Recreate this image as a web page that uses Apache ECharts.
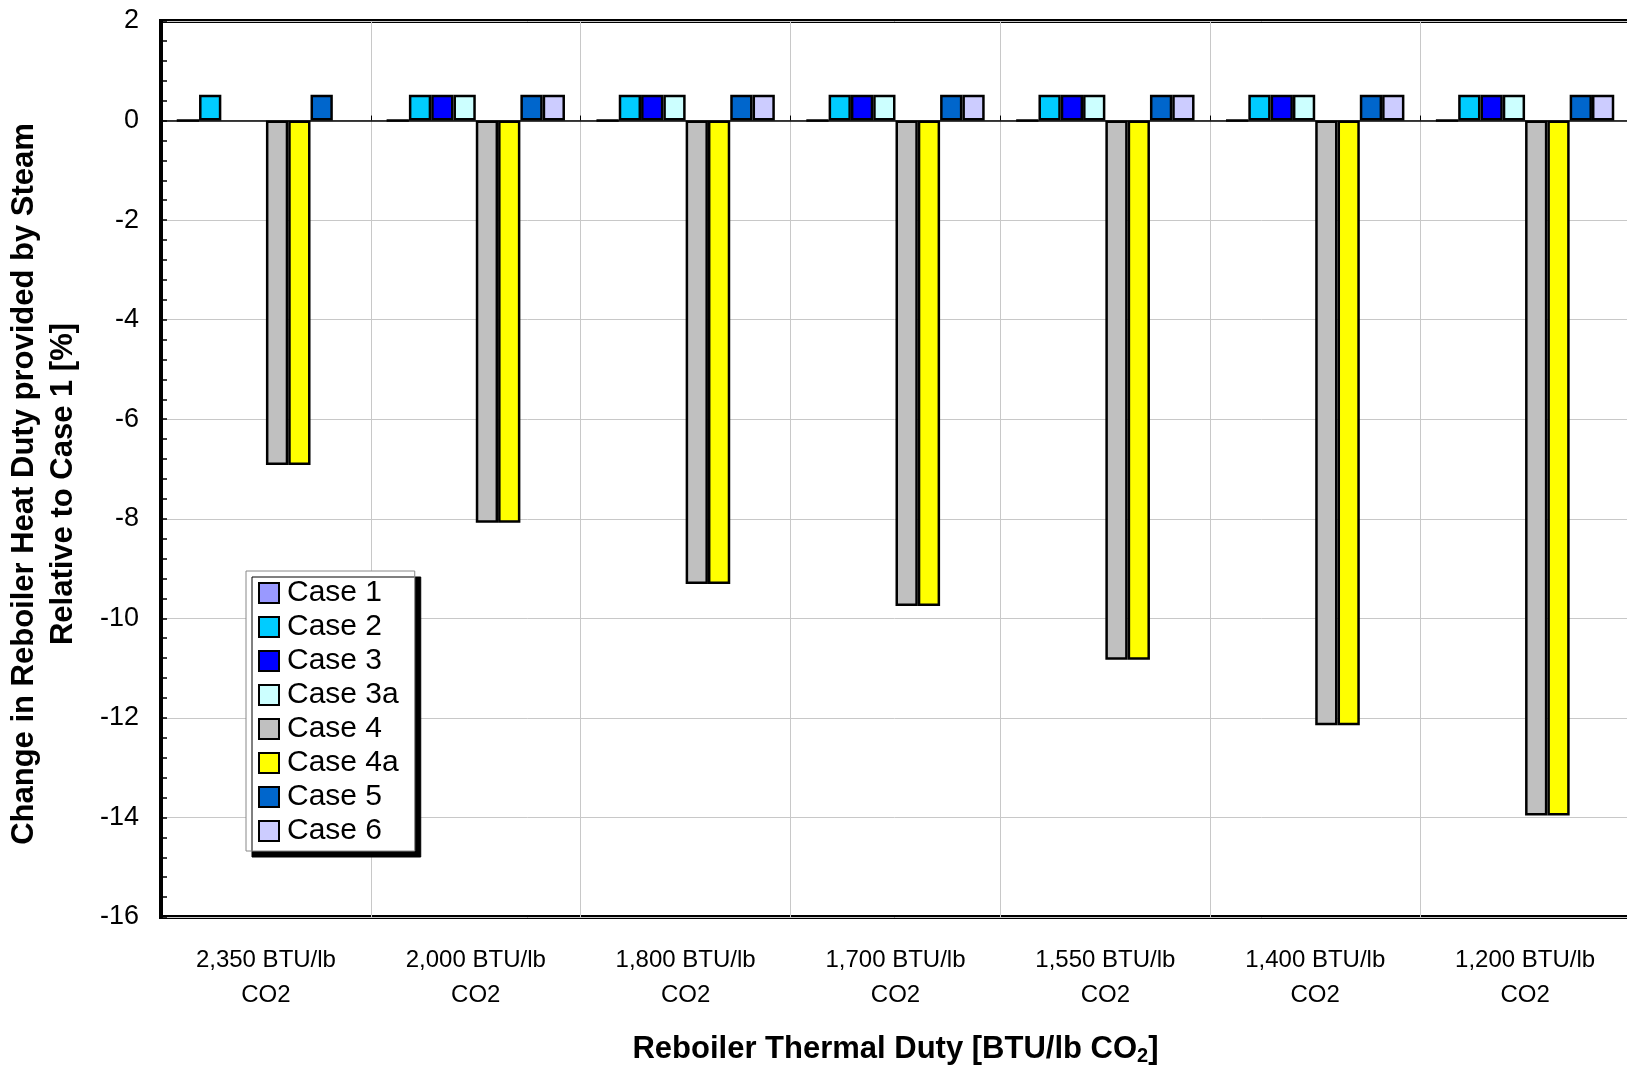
<!DOCTYPE html>
<html>
<head>
<meta charset="utf-8">
<script src="https://cdn.jsdelivr.net/npm/echarts@6/dist/echarts.min.js"></script>
<style>
  html, body { margin: 0; padding: 0; background: #fff; }
  #main { width: 1627px; height: 1065px; }
</style>
</head>
<body>
<div id="main"></div>
<script>
// categories (reboiler thermal duty)
const categories = ['2,350 BTU/lb\nCO2', '2,000 BTU/lb\nCO2', '1,800 BTU/lb\nCO2', '1,700 BTU/lb\nCO2',
  '1,550 BTU/lb\nCO2', '1,400 BTU/lb\nCO2', '1,200 BTU/lb\nCO2']

// change relative to case 1 [%]
const case1 = [0, 0, 0, 0, 0, 0, 0]
const case2 = [0.52, 0.52, 0.52, 0.52, 0.52, 0.52, 0.52]
const case3 = [null, 0.52, 0.52, 0.52, 0.52, 0.52, 0.52]
const case3a = [null, 0.52, 0.52, 0.52, 0.52, 0.52, 0.52]
const case4 = [-6.92, -8.08, -9.31, -9.75, -10.83, -12.15, -13.96]
const case4a = [-6.92, -8.08, -9.31, -9.75, -10.83, -12.15, -13.96]
const case5 = [0.52, 0.52, 0.52, 0.52, 0.52, 0.52, 0.52]
const case6 = [null, 0.52, 0.52, 0.52, 0.52, 0.52, 0.52]

const names = ['Case 1', 'Case 2', 'Case 3', 'Case 3a', 'Case 4', 'Case 4a', 'Case 5', 'Case 6']
const colors = ['#9999FF', '#00CCFF', '#0000FF', '#CCFFFF', '#C0C0C0', '#FFFF00', '#0066CC', '#CCCCFF']
const values = [case1, case2, case3, case3a, case4, case4a, case5, case6]

const arial = "'Liberation Sans', Arial, sans-serif"

let myChart = echarts.init(document.getElementById('main'))

let series = names.map((n, i) => ({
  name: n,
  type: 'bar',
  data: values[i],
  barGap: '0%',
  barCategoryGap: '15%',
  itemStyle: { color: colors[i], borderColor: '#000', borderWidth: 2.5 }
}))

// black line at zero
series[0].markLine = {
  silent: true,
  symbol: 'none',
  label: { show: false },
  lineStyle: { color: '#000', width: 1.5, type: 'solid' },
  data: [{ yAxis: 0 }]
}

let option = {
  animation: false,
  grid: {
    left: 161, top: 21, right: -3, bottom: 148,
    outerBoundsMode: 'none',
    containLabel: false,
    show: true, borderColor: '#000', borderWidth: 4, backgroundColor: '#fff'
  },
  legend: {
    orient: 'vertical',
    left: 246, top: 571,
    data: names,
    icon: 'rect',
    itemWidth: 20, itemHeight: 20, itemGap: 4,
    padding: [7, 16, 5, 12],
    backgroundColor: '#fff',
    borderColor: '#888', borderWidth: 1, borderRadius: 0,
    shadowColor: '#000', shadowBlur: 0, shadowOffsetX: 6, shadowOffsetY: 6,
    textStyle: { fontFamily: arial, fontSize: 30, color: '#000', padding: [0, 0, 0, 3] }
  },
  xAxis: [{
    type: 'category',
    data: categories,
    position: 'bottom',
    axisLine: { show: false, onZero: false },
    axisTick: { show: false },
    splitLine: { show: true, lineStyle: { color: '#c8c8c8', width: 1 } },
    axisLabel: { fontFamily: arial, fontSize: 24, color: '#000', lineHeight: 35, margin: 26 },
    name: '{b|Reboiler Thermal Duty [BTU/lb CO}{s|2}{b|]}',
    nameLocation: 'middle',
    nameGap: 115,
    nameTextStyle: {
      rich: {
        b: { fontFamily: arial, fontWeight: 'bold', fontSize: 31, color: '#000' },
        s: { fontFamily: arial, fontWeight: 'bold', fontSize: 20, color: '#000', padding: [14, 0, 0, 0] }
      }
    }
  }, {
    type: 'category',
    data: categories,
    position: 'top',
    axisLine: { show: false, onZero: true },
    axisTick: { show: true, length: 5, lineStyle: { color: '#000' } },
    axisLabel: { show: false },
    splitLine: { show: false }
  }],
  yAxis: {
    type: 'value',
    min: -16, max: 2, interval: 2,
    axisLine: { show: true, lineStyle: { color: '#000', width: 4 } },
    axisTick: { show: true, inside: true, length: 6, lineStyle: { color: '#000', width: 1.5 } },
    minorTick: { show: true, splitNumber: 5, length: 6, lineStyle: { color: '#000', width: 1.5 } },
    splitLine: { show: true, lineStyle: { color: '#c8c8c8', width: 1 } },
    axisLabel: { fontFamily: arial, fontSize: 27, color: '#000', margin: 22 },
    name: 'Change in Reboiler Heat Duty provided by Steam\nRelative to Case 1 [%]',
    nameLocation: 'middle',
    nameGap: 78,
    nameTextStyle: { fontFamily: arial, fontWeight: 'bold', fontSize: 31, color: '#000', lineHeight: 39, padding: [0, 30, 0, 0] }
  },
  series: series
}

myChart.setOption(option)
</script>
</body>
</html>
